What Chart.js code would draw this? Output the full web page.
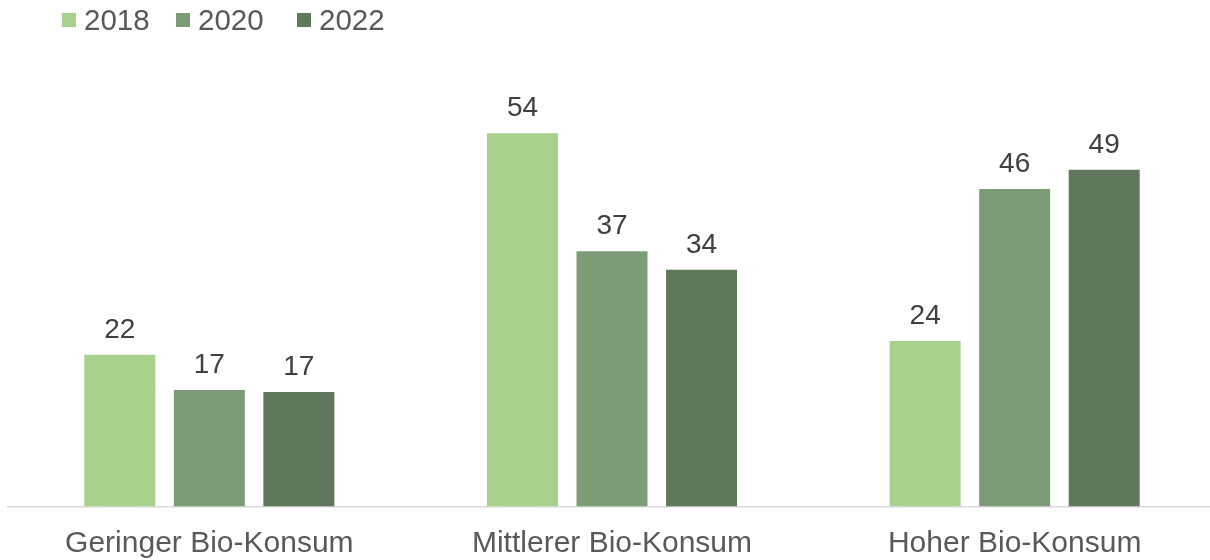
<!DOCTYPE html>
<html>
<head>
<meta charset="utf-8">
<script src="https://cdn.jsdelivr.net/npm/chart.js@4"></script>
<style>
	body { margin: 0; overflow: hidden; background: #fff; }
	#wrap { width: 1216px; height: 560px; }
</style>
</head>
<body>
<div id="wrap"><canvas id="mycanvas" width="1216" height="560"></canvas></div>
<script>
var kategorien = ['Geringer Bio-Konsum', 'Mittlerer Bio-Konsum', 'Hoher Bio-Konsum'];
var jahre = ['2018', '2020', '2022'];
var werte2018 = [22, 54.1, 24];
var werte2020 = [16.9, 37, 46];
var werte2022 = [16.6, 34.3, 48.8];
var farben = ['#A9D18E', '#7C9C77', '#5F775B'];

var schrift = '"Liberation Sans", Arial, sans-serif';

// Werte über den Balken
var wertePlugin = {
	id: 'werte',
	afterDatasetsDraw: function(chart) {
		var ctx = chart.ctx;
		ctx.save();
		ctx.font = '28px ' + schrift;
		ctx.fillStyle = '#404040';
		ctx.textAlign = 'center';
		ctx.textBaseline = 'alphabetic';
		chart.data.datasets.forEach(function(ds, i) {
			chart.getDatasetMeta(i).data.forEach(function(bar, j) {
				ctx.fillText(Math.round(ds.data[j]), bar.x, bar.y - 17);
			});
		});
		ctx.restore();
	}
};

// Legende oben links
var legendePlugin = {
	id: 'legende',
	afterDraw: function(chart) {
		var ctx = chart.ctx;
		var x = [62, 176, 297];
		ctx.save();
		ctx.font = '29.5px ' + schrift;
		ctx.textBaseline = 'alphabetic';
		ctx.textAlign = 'left';
		chart.data.datasets.forEach(function(ds, i) {
			ctx.fillStyle = ds.backgroundColor;
			ctx.fillRect(x[i], 13, 14, 14);
			ctx.fillStyle = '#595959';
			ctx.fillText(ds.label, x[i] + 22, 30);
		});
		ctx.restore();
	}
};

var chartdata = {
	labels: kategorien,
	datasets: [
		{ label: jahre[0], data: werte2018, backgroundColor: farben[0] },
		{ label: jahre[1], data: werte2020, backgroundColor: farben[1] },
		{ label: jahre[2], data: werte2022, backgroundColor: farben[2] }
	]
};

var ctx = document.getElementById('mycanvas');
var barGraph = new Chart(ctx, {
	type: 'bar',
	data: chartdata,
	plugins: [wertePlugin, legendePlugin],
	options: {
		responsive: false,
		animation: false,
		layout: { padding: { left: 8, right: 0, top: 92.5, bottom: 0 } },
		datasets: {
			bar: { categoryPercentage: 0.667, barPercentage: 0.793 }
		},
		plugins: {
			legend: { display: false },
			tooltip: { enabled: false }
		},
		scales: {
			x: {
				grid: { display: false, drawTicks: false },
				border: { display: true, color: '#D9D9D9', width: 1.5 },
				ticks: { color: '#595959', font: { family: schrift, size: 30 }, padding: 19 },
				afterFit: function(s) { s.height = 53.5; }
			},
			y: {
				display: false,
				min: 0,
				max: 60
			}
		}
	}
});
</script>
</body>
</html>
